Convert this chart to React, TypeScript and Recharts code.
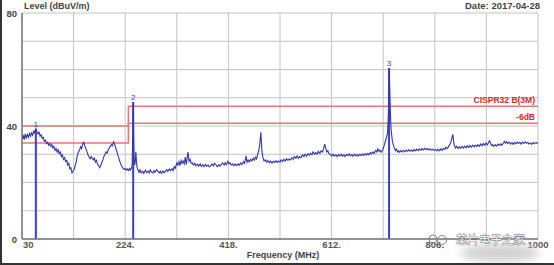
import React from "react";
import { LineChart, Line, XAxis, YAxis, CartesianGrid, ReferenceLine } from "recharts";

// Trace: [frequency MHz, level dBuV/m]
const trace: [number, number][] = [
  [30, 36.8], [31.5, 35.4], [33, 36.4], [34.5, 35.2], [36, 37.2], [38, 35.8], [40, 37.0], [42, 36.0], [44, 37.4], [46, 36.4],
  [48, 37.6], [50, 36.8], [52, 38.2], [54, 37.6], [56, 39.0], [58, 38.0], [60, 37.2], [62, 37.8], [64, 36.4], [66, 36.9],
  [68, 35.6], [70, 36.0], [72, 34.6], [74, 35.0], [76, 33.8], [78, 34.2], [80, 33.2], [82, 33.8], [84, 32.8], [86, 33.4],
  [88, 32.2], [90, 32.8], [92, 31.4], [94, 32.0], [96, 30.8], [98, 31.6], [100, 30.2], [102, 30.8], [104, 29.2], [106, 29.8],
  [108, 28.2], [110, 28.8], [112, 27.4], [114, 27.8], [116, 26.2], [118, 26.8], [120, 24.8], [122, 25.2], [124, 23.4], [126, 24.0],
  [128, 24.6], [130, 26.0], [132, 27.4], [134, 29.6], [136, 30.8], [138, 31.4], [140, 32.6], [142, 32.0], [144, 33.6], [146, 34.2],
  [148, 33.0], [150, 32.0], [152, 31.0], [154, 29.8], [156, 29.0], [158, 28.4], [160, 29.2], [162, 28.6], [164, 28.0], [166, 28.6],
  [168, 27.2], [170, 27.8], [172, 26.4], [174, 26.0], [176, 25.2], [178, 26.0], [180, 27.0], [182, 28.0], [184, 29.2], [186, 30.0],
  [188, 30.8], [190, 30.4], [192, 31.6], [194, 32.2], [196, 32.8], [198, 33.4], [200, 33.0], [202, 34.4], [204, 33.6], [206, 32.4],
  [208, 31.2], [210, 29.8], [212, 28.6], [214, 27.4], [216, 26.4], [218, 25.6], [220, 25.0], [222, 24.6], [224, 25.0], [226, 24.4],
  [228, 24.8], [230, 24.2], [232, 25.0], [234, 24.4], [236, 25.2], [237, 26.2], [238, 34.0], [239, 48.5], [240, 35.0], [241, 27.0],
  [242, 26.2], [243, 27.6], [244, 30.8], [245, 27.8], [246, 25.6], [248, 24.4], [250, 23.6], [252, 24.5], [254, 23.4], [257, 24.0],
  [259, 23.2], [262, 24.4], [264, 23.5], [267, 24.0], [269, 23.3], [271, 24.5], [274, 23.6], [276, 23.4], [278, 24.2], [280, 23.6],
  [283, 24.6], [285, 24.0], [288, 23.4], [290, 24.0], [292, 23.2], [295, 24.1], [297, 23.5], [299, 23.8], [302, 24.6], [304, 23.9],
  [307, 24.8], [309, 24.2], [312, 24.9], [314, 24.2], [316, 25.6], [318, 25.0], [321, 26.9], [323, 26.2], [325, 27.4], [327, 26.0],
  [329, 27.8], [331, 26.8], [333, 27.6], [335, 26.6], [337, 29.0], [339, 26.4], [342, 30.8], [344, 27.6], [346, 28.2], [348, 26.8],
  [350, 27.0], [352, 26.2], [355, 26.8], [357, 25.9], [360, 26.5], [362, 25.8], [365, 26.6], [367, 25.7], [370, 26.3], [372, 25.6],
  [375, 26.4], [377, 25.8], [380, 26.2], [382, 25.5], [385, 26.0], [387, 26.6], [390, 25.9], [392, 26.8], [395, 26.2], [397, 25.6],
  [400, 26.3], [402, 25.8], [405, 26.4], [407, 26.9], [410, 26.2], [412, 27.0], [414, 26.3], [417, 27.5], [419, 26.6], [421, 27.0],
  [423, 26.2], [426, 26.6], [428, 25.9], [431, 26.5], [433, 26.0], [436, 26.6], [438, 26.1], [441, 26.9], [443, 26.3], [446, 27.4],
  [448, 26.8], [450, 28.2], [451, 29.4], [453, 27.2], [455, 28.0], [457, 27.3], [460, 28.2], [462, 27.6], [465, 28.6], [467, 27.9],
  [469, 29.0], [471, 28.4], [473, 30.0], [475, 31.2], [477, 33.5], [479, 37.8], [480, 34.5], [481, 31.0], [483, 28.8], [485, 27.6],
  [487, 28.0], [490, 27.2], [492, 27.8], [495, 27.0], [497, 27.6], [500, 26.9], [502, 27.5], [505, 27.0], [507, 27.7], [510, 27.1],
  [512, 27.6], [515, 27.2], [517, 28.0], [520, 27.4], [522, 28.2], [525, 27.6], [527, 28.4], [530, 27.8], [532, 28.3], [535, 28.0],
  [537, 28.8], [540, 28.2], [542, 29.2], [545, 28.6], [547, 29.4], [550, 28.5], [552, 29.2], [555, 28.8], [557, 29.8], [560, 29.2],
  [562, 30.0], [565, 29.3], [567, 30.2], [570, 29.6], [572, 30.4], [575, 29.8], [577, 30.8], [580, 30.0], [582, 30.6], [585, 30.1],
  [587, 31.0], [590, 30.3], [592, 31.2], [595, 30.8], [597, 32.0], [599, 33.6], [601, 32.2], [603, 30.8], [605, 31.2], [607, 30.2],
  [610, 29.9], [612, 29.4], [615, 30.0], [617, 29.3], [620, 29.8], [622, 29.2], [625, 29.9], [627, 29.4], [630, 30.0], [632, 29.3],
  [635, 29.8], [637, 29.2], [640, 29.9], [642, 29.5], [645, 30.1], [647, 29.4], [650, 29.9], [652, 29.3], [655, 30.0], [657, 29.5],
  [660, 29.9], [662, 29.3], [665, 30.0], [667, 29.6], [670, 30.1], [672, 29.5], [675, 30.2], [677, 29.7], [680, 30.3], [682, 29.8],
  [685, 30.6], [687, 30.1], [690, 30.8], [692, 30.3], [695, 31.4], [697, 30.8], [699, 31.9], [701, 31.0], [703, 31.5], [705, 30.7],
  [707, 31.2], [709, 32.0], [711, 33.2], [713, 34.6], [715, 35.8], [717, 37.5], [718, 41.0], [719, 46.0], [720, 60.5], [721, 55.0],
  [722, 48.0], [723, 42.0], [724, 38.5], [726, 35.0], [728, 33.2], [730, 32.2], [732, 31.3], [734, 31.8], [736, 30.8], [738, 31.2],
  [740, 30.7], [742, 31.3], [745, 30.8], [747, 31.4], [750, 30.9], [752, 31.5], [755, 31.0], [757, 31.6], [760, 31.1], [762, 31.5],
  [765, 31.0], [767, 31.7], [770, 31.2], [772, 31.8], [775, 31.3], [777, 31.9], [780, 31.4], [782, 32.0], [785, 31.5], [787, 32.1],
  [790, 31.6], [792, 32.0], [795, 31.5], [797, 31.9], [800, 31.4], [802, 31.8], [805, 31.3], [807, 31.7], [810, 31.2], [812, 31.8],
  [815, 31.2], [817, 31.9], [820, 31.4], [822, 32.1], [825, 31.7], [827, 32.5], [830, 32.0], [832, 32.8], [834, 33.4], [836, 34.2],
  [838, 35.6], [840, 37.0], [841, 35.0], [843, 32.8], [845, 32.2], [847, 32.8], [850, 32.0], [852, 32.6], [855, 32.1], [857, 32.8],
  [860, 32.2], [862, 32.9], [865, 32.3], [867, 33.0], [870, 32.4], [872, 33.1], [875, 32.5], [877, 33.2], [880, 32.6], [882, 33.2],
  [885, 32.7], [887, 33.4], [890, 32.8], [892, 33.6], [895, 33.0], [897, 33.8], [900, 33.2], [902, 34.0], [905, 33.3], [907, 34.2],
  [909, 34.8], [911, 33.8], [913, 33.0], [915, 33.4], [917, 32.8], [920, 33.4], [922, 32.9], [925, 33.6], [927, 33.1], [930, 33.7],
  [932, 33.2], [935, 34.0], [937, 34.6], [939, 33.9], [941, 34.4], [943, 33.8], [946, 34.3], [948, 33.6], [951, 34.1], [953, 33.5],
  [956, 34.2], [958, 33.7], [961, 34.3], [963, 33.8], [966, 34.2], [968, 33.6], [971, 34.3], [973, 33.8], [976, 34.4], [978, 33.9],
  [981, 34.2], [983, 33.6], [986, 34.0], [988, 33.5], [991, 34.1], [993, 33.7], [996, 34.2], [998, 33.9], [1000, 34.1],
];

// Limit lines (step)
const limitFreqs = [30, 230, 1000];
const limitLevels = [40, 47, 47];
const marginLevels = [34, 41, 41];

// Markers
const markerNames = ["1", "2", "3"];
const markerFreqs = [56, 239, 720];
const markerLevels = [39.0, 48.5, 60.5];

const xTicks = [30, 127, 224, 321, 418, 515, 612, 709, 806, 903, 1000];
const xTickLabels: Record<number, string> = { 30: "30", 224: "224.", 418: "418.", 612: "612.", 806: "806.", 1000: "1000" };
const yTicks = [0, 10, 20, 30, 40, 50, 60, 70, 80];
const yTickLabels: Record<number, string> = { 0: "0", 40: "40", 80: "80" };

const traceData = trace.map(([f, v]) => ({ f, v }));
const limitData = limitFreqs.map((f, i) => ({ f, v: limitLevels[i] }));
const marginData = limitFreqs.map((f, i) => ({ f, v: marginLevels[i] }));

const FONT = "'Liberation Sans', Arial, sans-serif";

const XTick = (props: any) => {
  const { x, y, payload } = props;
  const label = xTickLabels[payload.value];
  if (!label) return <g />;
  const first = payload.value === 30;
  return (
    <text x={first ? x + 1 : x} y={y + 7} textAnchor={first ? "start" : "middle"} fontSize={9.5} fontWeight="bold" fill="#555" fontFamily={FONT}>
      {label}
    </text>
  );
};

const YTick = (props: any) => {
  const { x, y, payload } = props;
  const label = yTickLabels[payload.value];
  if (!label) return <g />;
  return (
    <text x={x} y={y + 3.5} textAnchor="end" fontSize={9.5} fontWeight="bold" fill="#444" fontFamily={FONT}>
      {label}
    </text>
  );
};

const makeEndLabel = (text: string, count: number) => (props: any) => {
  const { x, y, index } = props;
  if (index !== count - 1) return <g />;
  return (
    <text x={x - 3} y={y - 3} textAnchor="end" fontSize={8.5} fontWeight="bold" fill="#d42a2a" fontFamily={FONT}>
      {text}
    </text>
  );
};

export default function App() {
  return (
    <div style={{ position: "fixed", left: 0, top: 0, width: 554, height: 265, background: "#fff", overflow: "hidden" }}>
      <LineChart width={554} height={265} margin={{ top: 13, right: 16, bottom: 12, left: 0 }}>
        <CartesianGrid stroke="#c4c4c4" strokeWidth={1} />
        <XAxis
          type="number"
          dataKey="f"
          domain={[30, 1000]}
          ticks={xTicks}
          allowDataOverflow
          height={14}
          tickSize={0}
          tickMargin={2}
          tickLine={false}
          axisLine={{ stroke: "#777", strokeWidth: 1.5 }}
          tick={<XTick />}
          interval={0}
        />
        <YAxis
          type="number"
          domain={[0, 80]}
          ticks={yTicks}
          width={22}
          tickSize={0}
          tickMargin={5}
          tickLine={false}
          axisLine={{ stroke: "#777", strokeWidth: 1.5 }}
          tick={<YTick />}
          interval={0}
        />
        <Line
          data={marginData}
          dataKey="v"
          type="stepAfter"
          stroke="#e27a7a"
          strokeWidth={1.6}
          dot={false}
          isAnimationActive={false}
          label={makeEndLabel("-6dB", marginData.length)}
        />
        <Line
          data={limitData}
          dataKey="v"
          type="stepAfter"
          stroke="#e27a7a"
          strokeWidth={1.6}
          dot={false}
          isAnimationActive={false}
          label={makeEndLabel("CISPR32 B(3M)", limitData.length)}
        />
        {markerFreqs.map((f, i) => (
          <ReferenceLine
            key={markerNames[i]}
            segment={[{ x: f, y: 0 }, { x: f, y: markerLevels[i] }]}
            stroke="#3a3ed2"
            strokeWidth={2}
            label={{ value: markerNames[i], position: "top", offset: 2, fill: "#3a3ed2", fontSize: 8, fontFamily: FONT }}
          />
        ))}
        <Line
          data={traceData}
          dataKey="v"
          type="linear"
          stroke="#3237a6"
          strokeWidth={1.1}
          dot={false}
          isAnimationActive={false}
        />
      </LineChart>
      <svg width={554} height={265} style={{ position: "absolute", left: 0, top: 0, pointerEvents: "none" }}>
        <text x={24} y={9} fontSize={9} fontWeight="bold" fill="#444" fontFamily={FONT}>Level (dBuV/m)</text>
        <text x={540} y={9} textAnchor="end" fontSize={9.5} fontWeight="bold" fill="#444" fontFamily={FONT}>Date: 2017-04-28</text>
        <text x={283} y={258} textAnchor="middle" fontSize={9} fontWeight="bold" fill="#444" fontFamily={FONT}>Frequency (MHz)</text>
        <defs>
          <filter id="blur" x="-20%" y="-50%" width="140%" height="200%">
            <feGaussianBlur stdDeviation="4" />
          </filter>
        </defs>
        <ellipse cx={500} cy={253} rx={40} ry={9} fill="#d2d2d2" filter="url(#blur)" />
        <g fill="none" stroke="#888" strokeWidth={1}>
          <circle cx={433} cy={239} r={4} />
          <circle cx={442} cy={240} r={4.5} />
        </g>
        <text
          x={456}
          y={244}
          fontSize={11.5}
          fill="#fff"
          stroke="#666"
          strokeWidth={0.8}
          paintOrder="stroke"
          fontFamily="'Noto Sans CJK SC', sans-serif"
        >
          芯片电子之家
        </text>
      </svg>
      <div style={{ position: "absolute", left: 0, bottom: 0, width: 554, height: 2, background: "#333" }} />
      <div style={{ position: "absolute", left: 0, top: 0, width: 2, height: 265, background: "#333" }} />
    </div>
  );
}
